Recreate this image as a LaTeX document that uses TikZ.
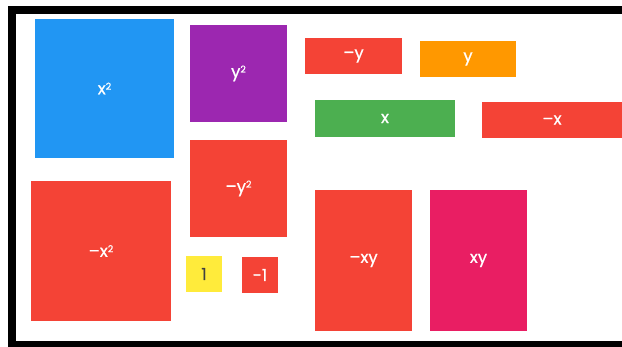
\documentclass[tikz,border=0pt]{standalone}
\usepackage{fontspec}
\setmainfont{Poppins}
\newfontfamily\tilefont{Poppins}[FakeBold=0.8]
\newcommand\sqr{\raisebox{4.6pt}{\fontsize{9.5}{9.5}\selectfont 2}}
\definecolor{cblue}{HTML}{2196F3}
\definecolor{cpurple}{HTML}{9C27B0}
\definecolor{cred}{HTML}{F44336}
\definecolor{corange}{HTML}{FF9800}
\definecolor{cgreen}{HTML}{4CAF50}
\definecolor{cpink}{HTML}{E91E63}
\definecolor{cyellow}{HTML}{FFEB3B}
\begin{document}
\begin{tikzpicture}[x=1pt,y=-1pt,
  tile/.style={inner sep=0pt,text=white,font=\tilefont\fontsize{16.5}{18}\selectfont},
  frame/.style={draw=black,line width=8pt}]
\useasboundingbox (0,0) rectangle (622,346);
\draw[frame] (640,10) -- (12,10) -- (12,345) -- (640,345);
% boxes
\fill[cblue]   (35,19) rectangle (174,158);
\node[tile] (x2) at (104.5,88.5) {x\sqr};
\fill[cpurple] (190,25) rectangle (287,122);
\node[tile] (y2) at (238.5,73.5) {y\sqr};
\fill[cred]    (190,140) rectangle (287,237);
\node[tile] (my2) at (238.5,188.5) {–y\sqr};
\fill[cred]    (305,38) rectangle (402,74);
\node[tile] (my) at (353.5,56) {–y};
\fill[corange] (420,41) rectangle (516,77);
\node[tile] (y) at (468,59) {y};
\fill[cgreen]  (315,100) rectangle (455,137);
\node[tile] (x) at (385,118.5) {x};
\fill[cred]    (482,102) rectangle (622,138);
\node[tile] (mx) at (552,120) {–x};
\fill[cred]    (31,181) rectangle (171,321);
\node[tile] (mx2) at (101,251) {–x\sqr};
\fill[cyellow] (186,256) rectangle (222,292);
\node[tile,text=black!75] (one) at (204,274) {1};
\fill[cred]    (242,257) rectangle (278,293);
\node[tile] (mone) at (260,275) {-1};
\fill[cred]    (315,190) rectangle (412,331);
\node[tile] (mxy) at (363.5,260.5) {–xy};
\fill[cpink]   (430,190) rectangle (527,331);
\node[tile] (xy) at (478.5,260.5) {xy};
\end{tikzpicture}
\end{document}
